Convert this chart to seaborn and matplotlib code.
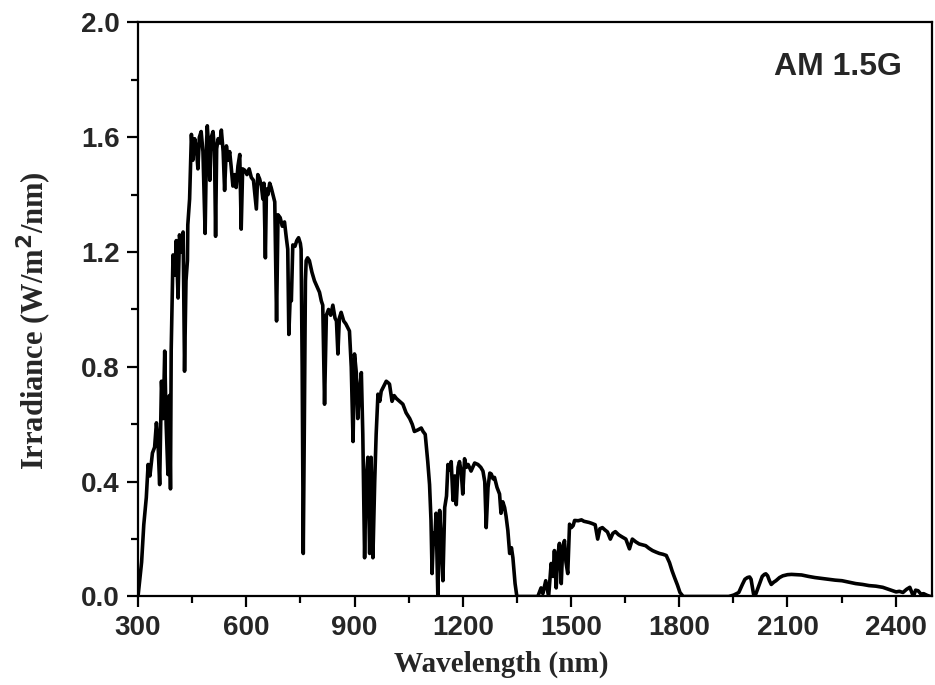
import matplotlib
matplotlib.use("Agg")
import seaborn as sns
import matplotlib.pyplot as plt
from matplotlib.ticker import MultipleLocator

# espectro solar AM 1.5G
comprimento_onda = [
    300, 310, 316, 323, 328, 333, 340, 346, 351, 355, 360, 365, 370, 374, 378, 383, 387, 390,
    392, 397, 402, 406, 411, 415, 420, 425, 429, 433, 437, 438, 443, 448, 452, 457, 462, 466,
    470, 475, 480, 486, 490, 492, 496, 499, 503, 508, 512, 515, 518, 522, 527, 531, 536, 540,
    545, 550, 554, 558, 563, 568, 572, 577, 582, 586, 590, 596, 602, 608, 614, 620, 628, 632,
    637, 642, 646, 649, 653, 656, 660, 665, 669, 674, 679, 684, 688, 694, 700, 706, 711, 715,
    718, 722, 725, 729, 735, 740, 745, 750, 752, 755, 758, 761, 764, 766, 770, 775, 782, 789,
    796, 803, 808, 812, 817, 822, 828, 834, 840, 846, 850, 854, 858, 863, 870, 876, 882, 886,
    891, 896, 900, 905, 909, 914, 919, 923, 928, 932, 937, 942, 946, 951, 956, 960, 965, 970,
    974, 980, 988, 993, 997, 1004, 1010, 1016, 1025, 1034, 1043, 1053, 1060, 1066, 1075, 1085,
    1090, 1096, 1103, 1108, 1112, 1115, 1119, 1122, 1126, 1131, 1136, 1140, 1145, 1150, 1155,
    1159, 1163, 1168, 1173, 1178, 1182, 1187, 1191, 1196, 1200, 1205, 1210, 1215, 1223, 1233,
    1242, 1250, 1256, 1261, 1265, 1270, 1275, 1279, 1284, 1288, 1295, 1302, 1306, 1311, 1316,
    1320, 1325, 1330, 1335, 1339, 1345, 1350, 1380, 1408, 1417, 1422, 1430, 1438, 1445, 1450,
    1454, 1459, 1463, 1468, 1473, 1477, 1482, 1486, 1491, 1496, 1501, 1506, 1510, 1520, 1529,
    1536, 1543, 1550, 1557, 1567, 1574, 1580, 1587, 1594, 1601, 1609, 1616, 1623, 1632, 1641,
    1652, 1662, 1670, 1680, 1689, 1698, 1707, 1716, 1726, 1735, 1745, 1755, 1764, 1773, 1780,
    1787, 1795, 1802, 1811, 1900, 1937, 1951, 1965, 1975, 1982, 1989, 1995, 1999, 2006, 2012,
    2017, 2022, 2030, 2036, 2040, 2045, 2050, 2055, 2062, 2068, 2078, 2087, 2100, 2111, 2125,
    2139, 2158, 2176, 2195, 2214, 2232, 2251, 2270, 2289, 2308, 2326, 2345, 2364, 2380, 2392,
    2401, 2410, 2420, 2430, 2439, 2449, 2455, 2462, 2470, 2477, 2487, 2496,
]
irradiancia = [
    0.0, 0.12, 0.25, 0.345, 0.46, 0.42, 0.50, 0.52, 0.605, 0.55, 0.39, 0.75, 0.62, 0.855, 0.60, 0.425, 0.70, 0.375,
    0.86, 1.19, 1.12, 1.24, 1.04, 1.26, 1.20, 1.27, 0.785, 1.10, 1.17, 1.295, 1.385, 1.61, 1.52, 1.595, 1.56, 1.49,
    1.60, 1.62, 1.55, 1.265, 1.58, 1.64, 1.56, 1.45, 1.60, 1.62, 1.55, 1.255, 1.56, 1.595, 1.58, 1.625, 1.55, 1.415,
    1.57, 1.52, 1.55, 1.50, 1.43, 1.47, 1.425, 1.50, 1.54, 1.28, 1.49, 1.485, 1.47, 1.49, 1.46, 1.45, 1.35, 1.47,
    1.455, 1.43, 1.385, 1.44, 1.18, 1.42, 1.40, 1.44, 1.425, 1.40, 1.375, 0.96, 1.33, 1.32, 1.29, 1.305, 1.25, 1.21,
    0.913, 1.05, 1.03, 1.225, 1.22, 1.24, 1.25, 1.23, 1.21, 0.80, 0.15, 0.60, 1.10, 1.17, 1.18, 1.17, 1.13, 1.10,
    1.08, 1.06, 1.03, 1.015, 0.67, 0.98, 1.00, 0.98, 1.015, 0.97, 0.96, 0.845, 0.97, 0.99, 0.96, 0.95, 0.935, 0.925,
    0.80, 0.54, 0.845, 0.78, 0.62, 0.72, 0.78, 0.565, 0.135, 0.40, 0.485, 0.15, 0.485, 0.135, 0.40, 0.565, 0.705, 0.68,
    0.715, 0.73, 0.75, 0.745, 0.74, 0.68, 0.70, 0.69, 0.68, 0.67, 0.64, 0.62, 0.60, 0.575, 0.58, 0.587,
    0.575, 0.565, 0.47, 0.39, 0.265, 0.08, 0.22, 0.185, 0.29, 0.0, 0.30, 0.20, 0.055, 0.31, 0.35,
    0.46, 0.44, 0.47, 0.335, 0.42, 0.32, 0.45, 0.47, 0.43, 0.357, 0.48, 0.45, 0.46, 0.437, 0.465,
    0.46, 0.45, 0.437, 0.40, 0.24, 0.38, 0.43, 0.427, 0.41, 0.415, 0.38, 0.357, 0.29, 0.33, 0.31,
    0.28, 0.23, 0.15, 0.17, 0.135, 0.045, 0.0, 0.0, 0.0, 0.03, 0.01, 0.055, 0.0, 0.115, 0.07,
    0.16, 0.03, 0.14, 0.185, 0.045, 0.17, 0.195, 0.12, 0.08, 0.252, 0.24, 0.247, 0.265, 0.264, 0.267,
    0.262, 0.26, 0.258, 0.255, 0.25, 0.20, 0.236, 0.24, 0.232, 0.225, 0.20, 0.22, 0.226, 0.215, 0.208,
    0.20, 0.166, 0.20, 0.19, 0.183, 0.18, 0.177, 0.168, 0.16, 0.155, 0.15, 0.147, 0.143, 0.118, 0.09,
    0.066, 0.04, 0.014, 0.0, 0.0, 0.0, 0.005, 0.014, 0.042, 0.06, 0.066, 0.068, 0.06, 0.008, 0.008,
    0.025, 0.042, 0.07, 0.077, 0.079, 0.072, 0.055, 0.042, 0.05, 0.055, 0.066, 0.072, 0.076, 0.077, 0.076,
    0.075, 0.07, 0.066, 0.063, 0.06, 0.057, 0.055, 0.05, 0.045, 0.042, 0.038, 0.036, 0.032, 0.025, 0.02,
    0.016, 0.018, 0.014, 0.025, 0.032, 0.0, 0.022, 0.02, 0.008, 0.01, 0.004, 0.0,
]

ticks_x = [300, 600, 900, 1200, 1500, 1800, 2100, 2400]
ticks_y = [0.0, 0.4, 0.8, 1.2, 1.6, 2.0]

sns.set_theme(style="ticks")
plt.rcParams['font.family'] = ['Liberation Sans', 'DejaVu Sans']

fig = plt.figure(figsize=(9.35, 6.85), dpi=100)
ax = fig.add_axes([0.1476, 0.1292, 0.849, 0.838])

sns.lineplot(x=comprimento_onda, y=irradiancia, sort=False, estimator=None,
             color="black", linewidth=2.6, ax=ax)

ax.set_xlim(300, 2500)
ax.set_ylim(0, 2.0)
ax.set_xticks(ticks_x)
ax.set_yticks(ticks_y)
ax.set_xticklabels([str(t) for t in ticks_x])
ax.set_yticklabels([f"{t:.1f}" for t in ticks_y])
ax.xaxis.set_minor_locator(MultipleLocator(150))
ax.yaxis.set_minor_locator(MultipleLocator(0.2))

for lado in ax.spines.values():
    lado.set_linewidth(1.6)
    lado.set_color("black")
ax.tick_params(which="major", direction="out", length=8, width=1.6, color="black",
               labelsize=20, pad=5)
ax.tick_params(which="minor", direction="out", length=5, width=1.6, color="black")
for rotulo in ax.get_xticklabels() + ax.get_yticklabels():
    rotulo.set_fontweight("bold")

ax.set_xlabel("Wavelength (nm)", family="Liberation Serif", fontweight="bold", fontsize=21)
ax.set_ylabel("Irradiance (W/m$^\\mathbf{2}$/nm)", family="Liberation Serif", fontweight="bold", fontsize=22)
ax.xaxis.set_label_coords(0.457, -0.095)
ax.yaxis.set_label_coords(-0.106, 0.48)

ax.text(0.962, 0.922, "AM 1.5G", transform=ax.transAxes, ha="right", va="center",
        fontsize=23, fontweight="bold")

fig.savefig("out.png", dpi=100)
